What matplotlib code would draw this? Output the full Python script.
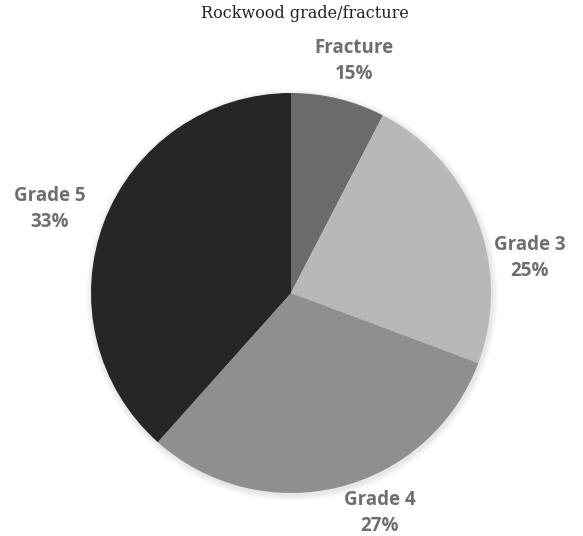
import matplotlib.pyplot as plt

# data
categories = ['Fracture', 'Grade 3', 'Grade 4', 'Grade 5']
shares = [7.6, 23.1, 30.9, 38.4]          # wedge sizes as drawn
pct_labels = ['15%', '25%', '27%', '33%']  # labels printed on chart
colors = ['#6b6b6b', '#b8b8b8', '#8f8f8f', '#262626']

W, H = 583, 536
fig = plt.figure(figsize=(W / 100, H / 100), dpi=100)
ax = fig.add_axes([0, 0, 1, 1])

cx, cy, r = 291, H - 293, 200

# faint shadow
for k in range(6):
    ax.add_patch(plt.Circle((cx + 1, cy - 2), r + 6 - k, color='black',
                            alpha=0.015, lw=0, zorder=0))

ax.pie(shares, colors=colors, startangle=90, counterclock=False,
       center=(cx, cy), radius=r, frame=True,
       wedgeprops=dict(linewidth=0))
ax.set_xlim(0, W)
ax.set_ylim(0, H)
ax.set_aspect('equal')
ax.axis('off')

ax.text(305, H - 13, 'Rockwood grade/fracture', ha='center', va='center',
        fontsize=11.5, family='DejaVu Serif', color='#222222')

# label centres in pixel coords (x, y from top)
label_pos = [(354, 61), (530, 258), (380, 513), (50, 209)]
for name, pct, (x, y) in zip(categories, pct_labels, label_pos):
    ax.text(x, H - y, name + '\n' + pct, ha='center', va='center',
            fontsize=13.5, fontweight='bold', family='Open Sans',
            color='#6e6e6e', linespacing=1.35)

fig.savefig('out.png', dpi=100)
